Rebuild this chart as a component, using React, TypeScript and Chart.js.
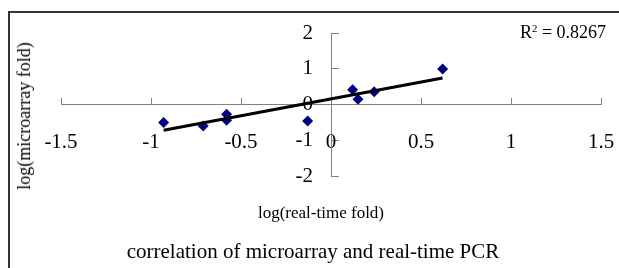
import React, { useEffect, useRef } from "react";
import { Chart, registerables } from "chart.js";

Chart.register(...registerables);

// ---- data ----
const realTimeLog = [-0.93, -0.71, -0.58, -0.58, -0.13, 0.12, 0.15, 0.24, 0.62];
const microarrayLog = [-0.5, -0.6, -0.27, -0.44, -0.46, 0.41, 0.15, 0.36, 0.99];
const trendX = [-0.93, 0.62];
const trendY = [-0.72, 0.74];
const xTicks = [-1.5, -1, -0.5, 0, 0.5, 1, 1.5];
const yTicks = [-2, -1, 0, 1, 2];
const rSquared = "0.8267";
const xTitle = "log(real-time fold)";
const yTitle = "log(microarray fold)";
const chartTitle = "correlation of microarray and real-time PCR";

const serif = "'Liberation Serif', 'Times New Roman', serif";

export default function App() {
  const ref = useRef<HTMLCanvasElement | null>(null);

  useEffect(() => {
    const canvas = ref.current;
    if (!canvas) return;
    const axisGrey = "#808080";
    const tickFont = { family: serif, size: 21 };
    const chart = new Chart(canvas, {
      type: "scatter",
      data: {
        datasets: [
          {
            type: "line",
            data: trendX.map((x, i) => ({ x, y: trendY[i] })),
            borderColor: "#000000",
            borderWidth: 3,
            pointRadius: 0,
            fill: false,
            order: 0,
          },
          {
            type: "scatter",
            data: realTimeLog.map((x, i) => ({ x, y: microarrayLog[i] })),
            pointStyle: "rectRot",
            pointRadius: 5.5,
            backgroundColor: "#000080",
            borderColor: "#000080",
            borderWidth: 0,
            order: 1,
          },
        ],
      },
      options: {
        responsive: false,
        animation: false,
        layout: { padding: { left: 61, right: 18, top: 33, bottom: 92 } },
        plugins: { legend: { display: false }, tooltip: { enabled: false } },
        scales: {
          // axis line and upward tick marks (crossing at y = 0)
          x: {
            type: "linear",
            axis: "x",
            position: { y: 0 },
            min: -1.5,
            max: 1.5,
            afterBuildTicks: (s: any) => {
              s.ticks = xTicks.map((v) => ({ value: v }));
            },
            grid: {
              drawOnChartArea: false,
              drawTicks: true,
              tickLength: -7,
              color: axisGrey,
              lineWidth: 1,
            },
            border: { display: true, color: axisGrey, width: 1 },
            ticks: { display: false },
          },
          // x tick labels, set low like the original
          xLabels: {
            type: "linear",
            axis: "x",
            position: { y: -0.7 },
            min: -1.5,
            max: 1.5,
            afterBuildTicks: (s: any) => {
              s.ticks = xTicks.map((v) => ({ value: v }));
            },
            grid: { display: false, drawTicks: false },
            border: { display: false },
            ticks: {
              autoSkip: false,
              maxRotation: 0,
              padding: 0,
              color: "#000000",
              font: tickFont,
              callback: (v: any) => String(v),
            },
          },
          // y axis line with tick marks pointing right (crossing at x = 0)
          y: {
            type: "linear",
            axis: "y",
            position: { x: 0 },
            min: -2,
            max: 2,
            afterBuildTicks: (s: any) => {
              s.ticks = yTicks.map((v) => ({ value: v }));
            },
            grid: {
              drawOnChartArea: false,
              drawTicks: true,
              tickLength: -8,
              color: axisGrey,
              lineWidth: 1,
            },
            border: { display: true, color: axisGrey, width: 1 },
            ticks: { display: false },
          },
          // y tick labels, a little left of the axis
          yLabels: {
            type: "linear",
            axis: "y",
            position: { x: -0.1 },
            min: -2,
            max: 2,
            afterBuildTicks: (s: any) => {
              s.ticks = yTicks.map((v) => ({ value: v }));
            },
            grid: { display: false, drawTicks: false },
            border: { display: false },
            ticks: {
              color: "#000000",
              font: tickFont,
              callback: (v: any) => String(v),
            },
          },
        },
      },
    } as any);
    return () => chart.destroy();
  }, []);

  const text: React.CSSProperties = {
    position: "absolute",
    fontFamily: serif,
    color: "#000",
    whiteSpace: "nowrap",
    lineHeight: 1,
  };

  return (
    <div
      style={{
        position: "fixed",
        left: 0,
        top: 0,
        width: 619,
        height: 268,
        overflow: "hidden",
        background: "#fff",
      }}
    >
      <div
        style={{
          position: "absolute",
          left: 8,
          top: 11,
          width: 700,
          height: 400,
          borderLeft: "2px solid #333",
          borderTop: "2px solid #333",
        }}
      />
      <canvas
        ref={ref}
        width={619}
        height={268}
        style={{ position: "absolute", left: 0, top: 0, display: "block" }}
      />
      <div
        style={{
          ...text,
          left: 24,
          top: 116,
          fontSize: 18,
          transform: "translate(-50%, -50%) rotate(-90deg)",
        }}
      >
        {yTitle}
      </div>
      <div
        style={{
          ...text,
          left: 321,
          top: 212,
          fontSize: 17,
          transform: "translate(-50%, -50%)",
        }}
      >
        {xTitle}
      </div>
      <div
        style={{
          ...text,
          left: 313,
          top: 251,
          fontSize: 21,
          transform: "translate(-50%, -50%)",
        }}
      >
        {chartTitle}
      </div>
      <div
        style={{
          ...text,
          left: 520,
          top: 31.5,
          fontSize: 18,
          transform: "translateY(-50%)",
        }}
      >
        R<sup style={{ fontSize: "0.6em", verticalAlign: "0.55em" }}>2</sup> = {rSquared}
      </div>
    </div>
  );
}
